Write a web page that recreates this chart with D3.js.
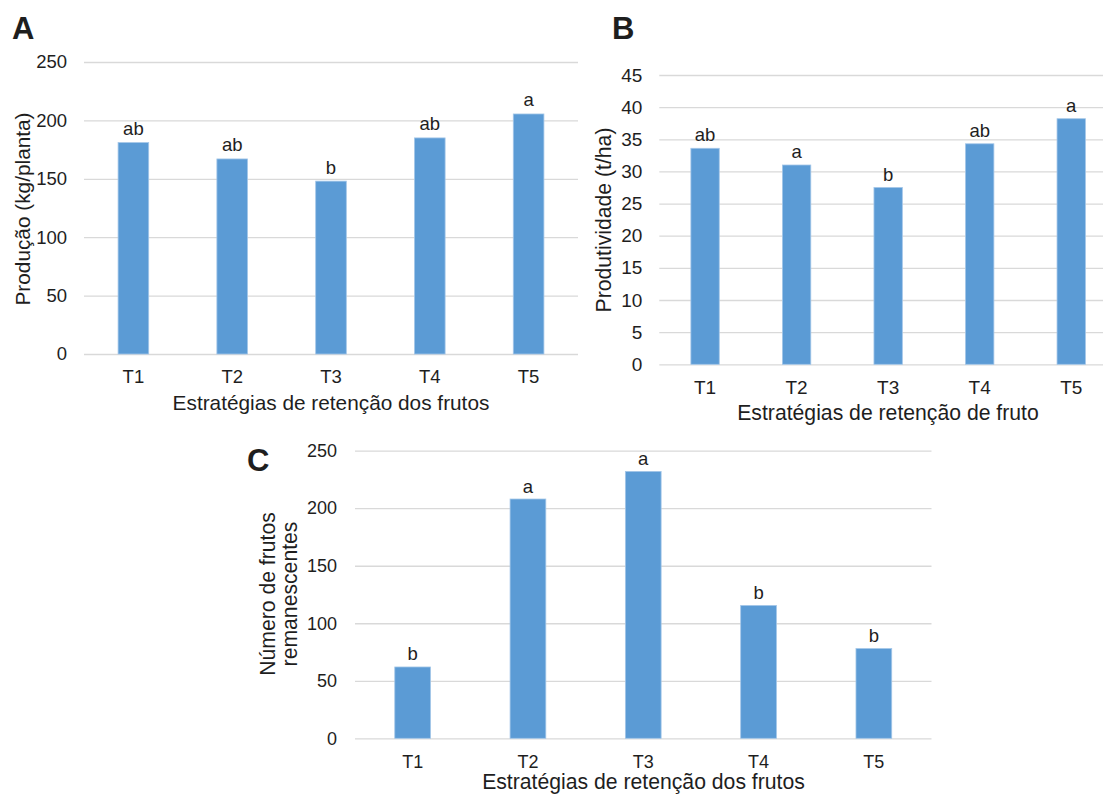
<!DOCTYPE html>
<html>
<head>
<meta charset="utf-8">
<script src="https://cdn.jsdelivr.net/npm/d3@7"></script>
<style>
  html, body { margin: 0; padding: 0; background: #ffffff; }
  svg { display: block; }
  text { font-family: "Liberation Sans", Arial, Helvetica, sans-serif; fill: #1e1e1e; }
</style>
</head>
<body>
<svg id="chart" width="1103" height="798"></svg>
<script>
// ---------- data ----------
const categories = ["T1", "T2", "T3", "T4", "T5"];

const producaoValues = [181, 167, 148, 185, 205.5];
const producaoLetters = ["ab", "ab", "b", "ab", "a"];
const producaoTicks = [0, 50, 100, 150, 200, 250];

const produtividadeValues = [33.6, 31.0, 27.5, 34.3, 38.2];
const produtividadeLetters = ["ab", "a", "b", "ab", "a"];
const produtividadeTicks = [0, 5, 10, 15, 20, 25, 30, 35, 40, 45];

const frutosValues = [62, 208, 232, 115.5, 78];
const frutosLetters = ["b", "a", "a", "b", "b"];
const frutosTicks = [0, 50, 100, 150, 200, 250];

const panelLetters = ["A", "B", "C"];
const yTitleA = ["Produção (kg/planta)"];
const yTitleB = ["Produtividade (t/ha)"];
const yTitleC = ["Número de frutos", "remanescentes"];
const xTitleA = "Estratégias de retenção dos frutos";
const xTitleB = "Estratégias de retenção de fruto";
const xTitleC = "Estratégias de retenção dos frutos";

// ---------- drawing ----------
const svg = d3.select("#chart");
const BAR = "#5b9bd5";
const GRID = "#d9d9d9";

function drawPanel(cfg) {
  const g = svg.append("g");
  const x = d3.scaleBand().domain(categories)
    .range([cfg.x0, cfg.x1]).paddingInner(0.69).paddingOuter(0.345);
  const y = d3.scaleLinear().domain([0, d3.max(cfg.ticks)])
    .range([cfg.yBottom, cfg.yTop]);

  // y axis + gridlines
  const ya = g.append("g").attr("transform", `translate(${cfg.x0},0)`)
    .call(d3.axisLeft(y).tickValues(cfg.ticks).tickFormat(d3.format("d"))
      .tickSizeInner(-(cfg.gridEnd - cfg.x0)).tickSizeOuter(0).tickPadding(cfg.tickPad));
  ya.select(".domain").remove();
  ya.selectAll(".tick line").attr("stroke", GRID).attr("stroke-width", 1.3);
  ya.selectAll(".tick text").attr("font-size", cfg.tickSize).attr("fill", "#1e1e1e")
    .style("font-family", "'Liberation Sans', Arial, sans-serif");

  // bars
  g.selectAll("rect.bar").data(cfg.values).join("rect")
    .attr("class", "bar")
    .attr("x", (d, i) => x(categories[i]))
    .attr("width", x.bandwidth())
    .attr("y", d => y(d))
    .attr("height", d => y(0) - y(d))
    .attr("fill", BAR)
    .attr("stroke", "#a3c6e8").attr("stroke-width", 0.8);

  // significance letters
  g.selectAll("text.sig").data(cfg.values).join("text")
    .attr("class", "sig")
    .attr("x", (d, i) => x(categories[i]) + x.bandwidth() / 2)
    .attr("y", d => y(d) - cfg.letterGap)
    .attr("text-anchor", "middle")
    .attr("font-size", cfg.letterSize)
    .text((d, i) => cfg.letters[i]);

  // x axis (category labels)
  const xa = g.append("g").attr("transform", `translate(0,${cfg.yBottom})`)
    .call(d3.axisBottom(x).tickSize(0).tickPadding(cfg.xPad));
  xa.select(".domain").remove();
  xa.selectAll(".tick text").attr("font-size", cfg.tickSize).attr("fill", "#1e1e1e")
    .style("font-family", "'Liberation Sans', Arial, sans-serif");

  // x title
  g.append("text")
    .attr("x", cfg.xTitleX).attr("y", cfg.xTitleY)
    .attr("text-anchor", "middle")
    .attr("font-size", cfg.titleSize)
    .text(cfg.xTitle);

  // y title (possibly multi-line)
  const n = cfg.yTitle.length;
  cfg.yTitle.forEach((line, i) => {
    g.append("text")
      .attr("transform", `translate(${cfg.yTitleX + (i - (n - 1)) * cfg.yTitleLead},${cfg.yTitleY}) rotate(-90)`)
      .attr("text-anchor", "middle")
      .attr("font-size", cfg.titleSize)
      .text(line);
  });

  // panel letter
  g.append("text")
    .attr("x", cfg.letterX).attr("y", cfg.letterY)
    .attr("font-size", 31).attr("font-weight", "bold").attr("fill", "#000")
    .text(cfg.panel);
}

drawPanel({
  panel: panelLetters[0], letterX: 12, letterY: 39,
  values: producaoValues, letters: producaoLetters, ticks: producaoTicks,
  x0: 84, x1: 578, gridEnd: 578, yBottom: 354, yTop: 62,
  tickPad: 17, tickSize: 18.5, letterSize: 18.5, letterGap: 7.5, xPad: 16,
  titleSize: 20.8, xTitle: xTitleA, xTitleX: 331, xTitleY: 410,
  yTitle: yTitleA, yTitleX: 30, yTitleY: 209, yTitleLead: 22
});

drawPanel({
  panel: panelLetters[1], letterX: 612, letterY: 39,
  values: produtividadeValues, letters: produtividadeLetters, ticks: produtividadeTicks,
  x0: 659.3, x1: 1117, gridEnd: 1117, yBottom: 364.3, yTop: 75,
  tickPad: 17, tickSize: 19, letterSize: 18.5, letterGap: 7, xPad: 16,
  titleSize: 21.2, xTitle: xTitleB, xTitleX: 888, xTitleY: 420,
  yTitle: yTitleB, yTitleX: 611, yTitleY: 220, yTitleLead: 22
});

drawPanel({
  panel: panelLetters[2], letterX: 247, letterY: 470.5,
  values: frutosValues, letters: frutosLetters, ticks: frutosTicks,
  x0: 355, x1: 931.5, gridEnd: 931.5, yBottom: 738.3, yTop: 450.7,
  tickPad: 18, tickSize: 18, letterSize: 18.5, letterGap: 6.5, xPad: 16.5,
  titleSize: 21.2, xTitle: xTitleC, xTitleX: 643.5, xTitleY: 789,
  yTitle: yTitleC, yTitleX: 297, yTitleY: 594, yTitleLead: 22.5
});
</script>
</body>
</html>
